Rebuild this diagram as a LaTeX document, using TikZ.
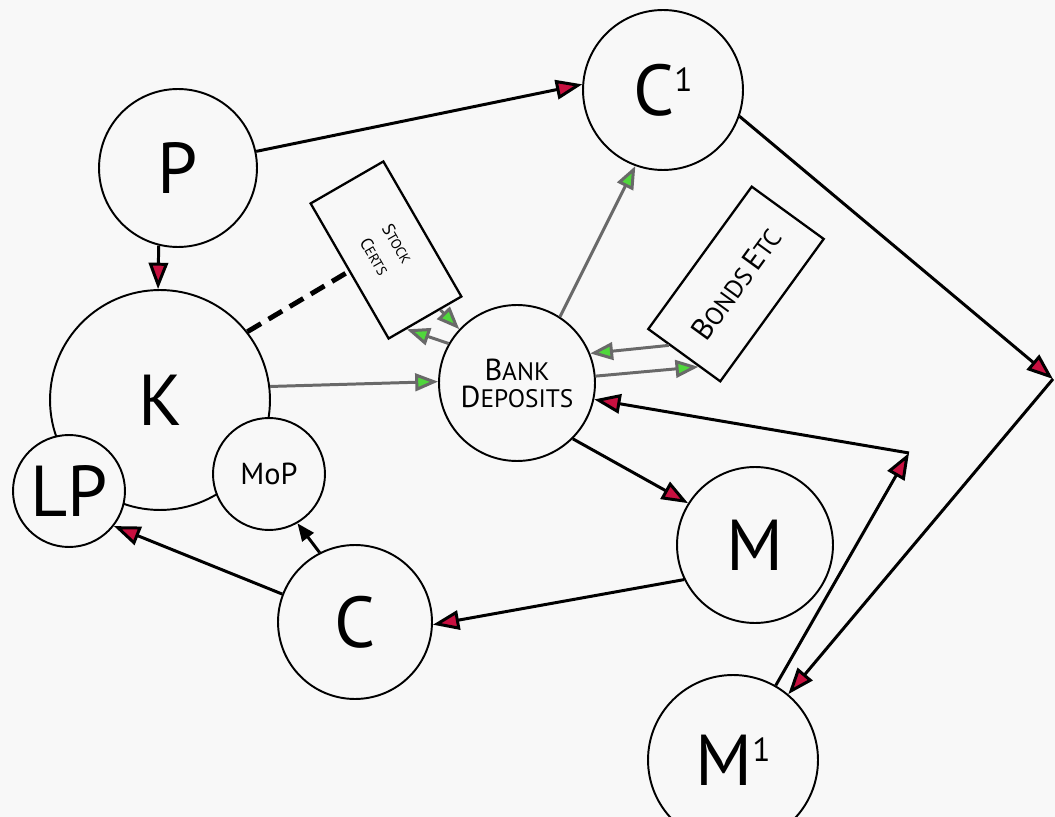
\documentclass[tikz,border=0pt]{standalone}
\usepackage{fontspec}
\setmainfont{PT Sans}
\usetikzlibrary{arrows.meta,calc}

\definecolor{tipred}{RGB}{200,16,64}
\definecolor{tipgreen}{RGB}{80,215,60}
\definecolor{linegray}{RGB}{105,105,105}
\definecolor{paper}{RGB}{248,248,248}

\newcommand{\lettersize}{\fontsize{41}{45}\selectfont}
\newcommand{\supone}{\raisebox{0.33em}{\fontsize{19}{19}\selectfont 1}}

\tikzset{
	circ/.style={circle,draw=black,line width=1.1pt,fill=paper,inner sep=0pt,minimum size=#1},
	certbox/.style={rectangle,draw=black,line width=1.3pt,fill=paper,inner sep=0pt,align=center},
	redarr/.style={line width=1.7pt,-{Triangle[length=15pt,width=11pt,fill=tipred]}},
	greenarr/.style={draw=linegray,line width=1.7pt,-{Triangle[length=13pt,width=10pt,fill=tipgreen]}},
}

\begin{document}
\begin{tikzpicture}[x=0.02cm,y=-0.02cm]
	\useasboundingbox[fill=paper] (0,0) rectangle (1055,817);
	
	\node[circ=3.16cm] (P) at (178,168) {\lettersize P};
	\node[circ=3.2cm] (C1) at (663,90) {\lettersize C\supone};
	
	\node[circ=4.4cm] (K) at (160,400) {\lettersize K};
	\node[circ=2.24cm] (LP) at (69,491) {\lettersize LP};
	\node[circ=2.24cm] (MoP) at (269,474) {\LARGE MoP};
	
	\node[circ=3.12cm,align=center] (BD) at (517,383) {{\LARGE B}{\Large ANK}\\[2pt]{\LARGE D}{\Large EPOSITS}};
	\node[circ=3.12cm] (M) at (755,545) {\lettersize M};
	\node[circ=3.08cm] (C) at (355,622) {\lettersize C};
	\node[circ=3.4cm] (M1) at (733,760) {\lettersize M\supone};
	
	\node[certbox,minimum width=3.12cm,minimum height=1.68cm,rotate=-60] (stock) at (386,250) {S{\footnotesize TOCK}\\[3pt]C{\footnotesize ERTS}};
	\node[certbox,minimum width=3.52cm,minimum height=1.78cm,rotate=54] (bonds) at (736,284) {{\LARGE B}{\Large ONDS} {\LARGE E}{\Large TC}};
	
	\coordinate (turn) at (1053,379);
	\coordinate (hub) at (909,453);
	
	% money and commodity circuit
	\draw[redarr] (P.-104) -- (K.91);
	\draw[redarr] (P.12) -- (C1.176);
	\draw[redarr] (C1.-19) -- (turn);
	\draw[redarr] (turn) -- (M1);
	\draw[redarr] (M1) -- (hub);
	\draw[redarr] (hub) -- (BD.-12);
	\draw[redarr] (BD.-45) -- (M.148);
	\draw[redarr] (M.206) -- (C.-2);
	\draw[redarr] (C.159) -- (LP.-38);
	\draw[line width=1.7pt,-{Triangle[length=10pt,width=8pt]}] (C.117) -- (MoP.-60);
	
	% deposits
	\draw[greenarr] (K.7) -- (BD.179);
	\draw[greenarr] (BD.57) -- (C1.250);
	\draw[greenarr] (BD.150) -- ($(stock.east)!0.5!(stock.south east)$);
	\draw[greenarr] ($(stock.east)!0.4!(stock.north east)$) -- (BD.137);
	\draw[greenarr] ($(bonds.west)!0.4!(bonds.north west)$) -- (BD.22);
	\draw[greenarr] (BD.5) -- ($(bonds.west)!0.4!(bonds.south west)$);
	
	\draw[line width=2.8pt,dash pattern=on 9pt off 5pt] (K.38) -- (stock.south);
\end{tikzpicture}
\end{document}
